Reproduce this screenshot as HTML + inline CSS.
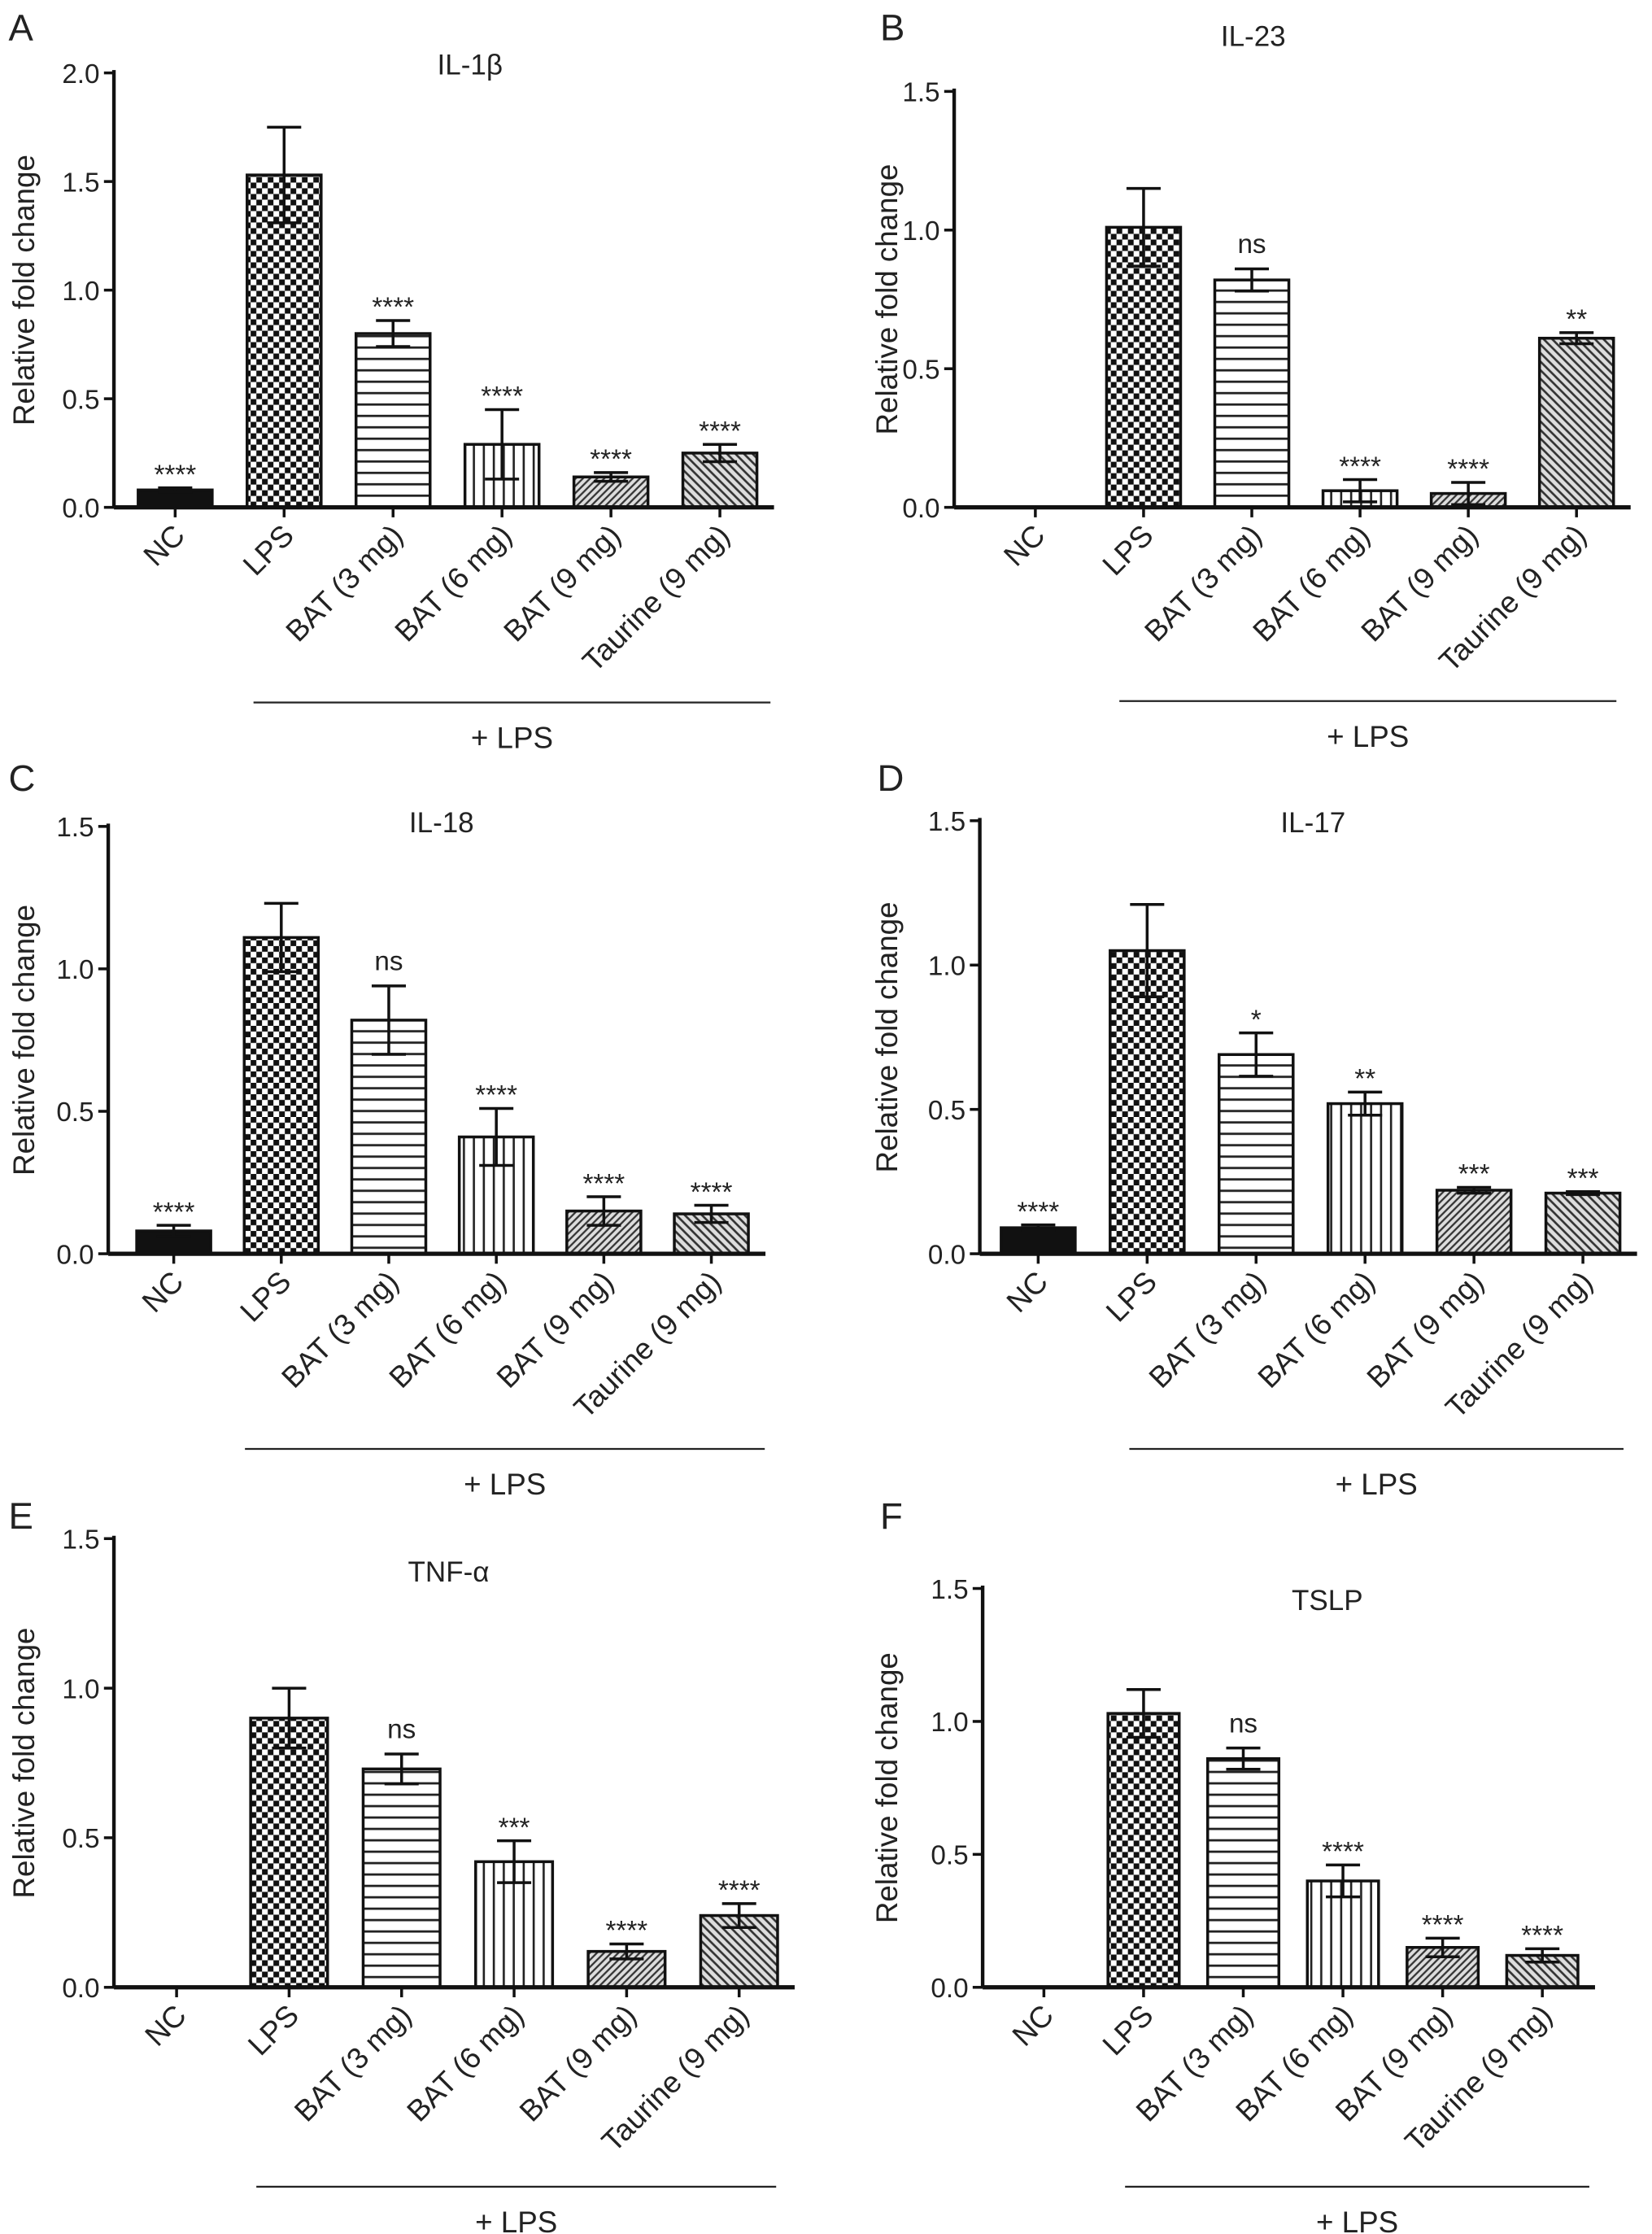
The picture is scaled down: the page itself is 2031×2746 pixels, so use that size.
<!DOCTYPE html>
<html><head><meta charset="utf-8"><style>
html,body{margin:0;padding:0;background:#fff}
svg{display:block}
text{font-family:"Liberation Sans",Arial,sans-serif;fill:#222}
</style></head><body>
<svg id="fig" width="2031" height="2746" viewBox="0 0 1160 1568" xmlns="http://www.w3.org/2000/svg">
<defs>
<pattern id="pChk" width="8" height="8" patternUnits="userSpaceOnUse"><rect width="8" height="8" fill="#fff"/><rect width="4" height="4" fill="#111"/><rect x="4" y="4" width="4" height="4" fill="#111"/></pattern>
<pattern id="pHor" width="8" height="8" patternUnits="userSpaceOnUse"><rect width="8" height="8" fill="#fff"/><rect y="3" width="8" height="1.6" fill="#222"/></pattern>
<pattern id="pVer" width="7" height="7" patternUnits="userSpaceOnUse"><rect width="7" height="7" fill="#fff"/><rect x="3" width="1.5" height="7" fill="#222"/></pattern>
<pattern id="pD1" width="5" height="5" patternUnits="userSpaceOnUse"><rect width="5" height="5" fill="#ddd"/><path d="M-1,6 L6,-1 M-1,1 L1,-1 M4,6 L6,4" stroke="#333" stroke-width="1.3"/></pattern>
<pattern id="pD2" width="6" height="6" patternUnits="userSpaceOnUse"><rect width="6" height="6" fill="#ddd"/><path d="M-1,-1 L7,7 M5,-1 L7,1 M-1,5 L1,7" stroke="#333" stroke-width="1.5"/></pattern>
</defs>
</svg>
<script>
const categories = ["NC","LPS","BAT (3 mg)","BAT (6 mg)","BAT (9 mg)","Taurine (9 mg)"];
const titles = ["IL-1β","IL-23","IL-18","IL-17","TNF-α","TSLP"];
const letters = ["A","B","C","D","E","F"];
const valsA = [0.08,1.53,0.80,0.29,0.14,0.25];
const errA  = [0.01,0.22,0.06,0.16,0.02,0.04];
const sigA  = ["****","","****","****","****","****"];
const valsB = [0.0,1.01,0.82,0.06,0.05,0.61];
const errB  = [0.0,0.14,0.04,0.04,0.04,0.02];
const sigB  = ["","","ns","****","****","**"];
const valsC = [0.08,1.11,0.82,0.41,0.15,0.14];
const errC  = [0.02,0.12,0.12,0.10,0.05,0.03];
const sigC  = ["****","","ns","****","****","****"];
const valsD = [0.09,1.05,0.69,0.52,0.22,0.21];
const errD  = [0.01,0.16,0.075,0.04,0.01,0.005];
const sigD  = ["****","","*","**","***","***"];
const valsE = [0.0,0.90,0.73,0.42,0.12,0.24];
const errE  = [0.0,0.10,0.05,0.07,0.025,0.04];
const sigE  = ["","","ns","***","****","****"];
const valsF = [0.0,1.03,0.86,0.40,0.15,0.12];
const errF  = [0.0,0.09,0.04,0.06,0.035,0.025];
const sigF  = ["","","ns","****","****","****"];
const ticksA = ["0.0","0.5","1.0","1.5","2.0"];
const ticksB = ["0.0","0.5","1.0","1.5"];

const NS="http://www.w3.org/2000/svg";
const svg=document.getElementById('fig');
const fills=["#111","url(#pChk)","url(#pHor)","url(#pVer)","url(#pD1)","url(#pD2)"];
function el(tag,attrs,parent,txt){const e=document.createElementNS(NS,tag);for(const k in attrs)e.setAttribute(k,attrs[k]);if(txt!==undefined)e.textContent=txt;(parent||svg).appendChild(e);return e;}

const panels=[
 {vals:valsA,err:errA,sig:sigA,ticks:ticksA,ymax:2.0,ax:80,y0:356,ytop:51,c0:123,sp:76.5,bw:52,lx:[178,541],ly:493,tx:330,ty:52,L:[6,28],yt:24},
 {vals:valsB,err:errB,sig:sigB,ticks:ticksB,ymax:1.5,ax:670,y0:356,ytop:64,c0:727,sp:76,bw:52,lx:[786,1135],ly:492,tx:880,ty:32,L:[618,28],yt:630},
 {vals:valsC,err:errC,sig:sigC,ticks:ticksB,ymax:1.5,ax:76,y0:880,ytop:580,c0:122,sp:75.5,bw:52,lx:[172,537],ly:1017,tx:310,ty:584,L:[6,555],yt:24},
 {vals:valsD,err:errD,sig:sigD,ticks:ticksB,ymax:1.5,ax:688,y0:880,ytop:576,c0:729,sp:76.5,bw:52,lx:[793,1140],ly:1017,tx:922,ty:584,L:[616,555],yt:630},
 {vals:valsE,err:errE,sig:sigE,ticks:ticksB,ymax:1.5,ax:80,y0:1395,ytop:1080,c0:124,sp:79,bw:54,lx:[180,545],ly:1535,tx:315,ty:1110,L:[6,1073],yt:24},
 {vals:valsF,err:errF,sig:sigF,ticks:ticksB,ymax:1.5,ax:690,y0:1395,ytop:1115,c0:733,sp:70,bw:50,lx:[790,1116],ly:1535,tx:932,ty:1130,L:[618,1073],yt:630}
];

panels.forEach((p,pi)=>{
 const g=el('g',{});
 
 
 const y=v=>p.y0-(v/p.ymax)*(p.y0-p.ytop);
 const x=i=>p.c0+i*p.sp;
 const xEnd=x(5)+p.bw/2+12;
 const lt=el('text',{x:p.L[0],y:p.L[1],'font-size':26},g,letters[pi]);
 
 
 const tt=el('text',{x:p.tx,y:p.ty,'font-size':20,'text-anchor':'middle'},g,titles[pi]);
 
 
 p.vals.forEach((v,i)=>{
  if(v<=0) return;
  const r=el('rect',{x:x(i)-p.bw/2,y:y(v),width:p.bw,height:p.y0-y(v),fill:fills[i],stroke:'#111','stroke-width':2},g);
  
  
  const e=p.err[i];
  if(e>0){
   const eb=el('path',{d:`M${x(i)},${y(v+e)}V${y(v-e)}M${x(i)-12},${y(v+e)}H${x(i)+12}M${x(i)-12},${y(v-e)}H${x(i)+12}`,stroke:'#111','stroke-width':2,fill:'none'},g);
   
   
  }
  if(p.sig[i]){
   const isStar=p.sig[i].indexOf('*')>=0;
   const s=el('text',{x:x(i),y:y(v+e)-(isStar?3:11),'font-size':19,'text-anchor':'middle'},g,p.sig[i]);
   
   
  }
 });
 const ya=el('line',{x1:p.ax,y1:p.ytop-2,x2:p.ax,y2:p.y0,stroke:'#111','stroke-width':2.5},g);
 
 
 const xa=el('line',{x1:p.ax,y1:p.y0,x2:xEnd,y2:p.y0,stroke:'#111','stroke-width':3},g);
 
 
 p.ticks.forEach((t,k)=>{
  const v=k*0.5, yy=y(v);
  el('line',{x1:p.ax-7,y1:yy,x2:p.ax,y2:yy,stroke:'#111','stroke-width':2},g);
  const tl=el('text',{x:p.ax-10,y:yy+7,'font-size':19,'text-anchor':'end'},g,t);
  
  
 });
 const yt=el('text',{x:p.yt,y:(p.ytop+p.y0)/2,'font-size':21,'text-anchor':'middle',transform:`rotate(-90 ${p.yt} ${(p.ytop+p.y0)/2})`},g,'Relative fold change');
 
 
 categories.forEach((c,i)=>{
  el('line',{x1:x(i),y1:p.y0,x2:x(i),y2:p.y0+7,stroke:'#111','stroke-width':2},g);
  const cx=x(i)+8, cy=p.y0+21;
  const cl=el('text',{x:cx,y:cy,'font-size':21,'text-anchor':'end',transform:`rotate(-45 ${cx} ${cy})`},g,c);
  
  
 });
 const ll=el('line',{x1:p.lx[0],y1:p.ly,x2:p.lx[1],y2:p.ly,stroke:'#222','stroke-width':1.3},g);
 
 
 const lp=el('text',{x:(p.lx[0]+p.lx[1])/2,y:p.ly+32,'font-size':21,'text-anchor':'middle'},g,'+ LPS');
 
 
});
</script>
</body></html>
